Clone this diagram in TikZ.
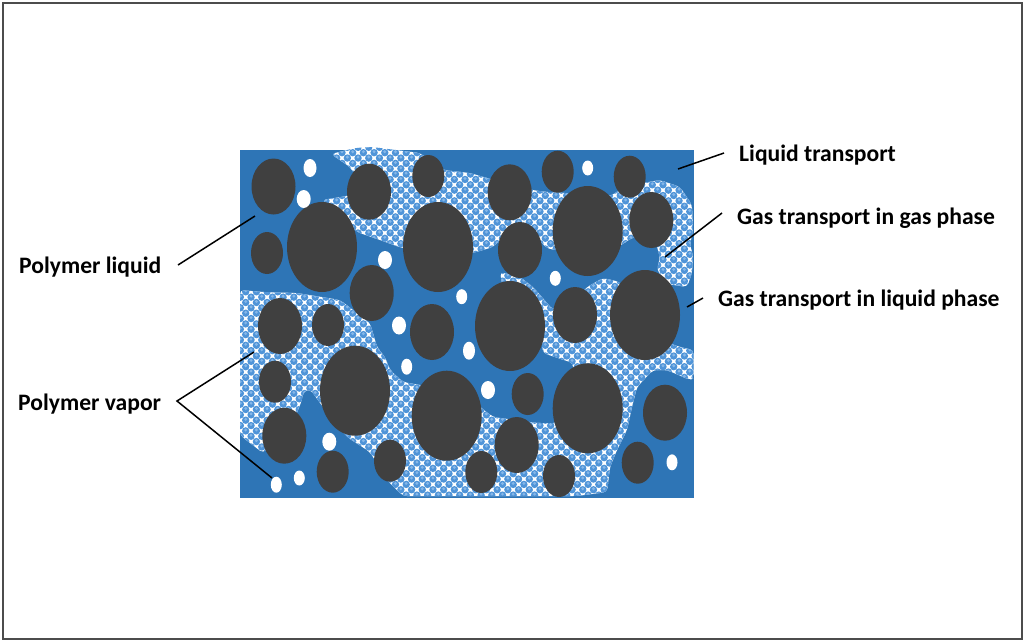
\documentclass[tikz,border=0pt]{standalone}
\usepackage{fontspec}
\setmainfont{Carlito}
\definecolor{liquidblue}{HTML}{2E75B6}
\definecolor{vaporblue}{HTML}{4F94D8}
\definecolor{vaporlight}{HTML}{86B7E8}
\definecolor{graindark}{HTML}{404040}
\tikzset{
  grain/.style={fill=graindark},
  bubble/.style={fill=white},
  leader/.style={draw=black,line width=1.5pt},
  tag/.style={anchor=west,inner sep=0pt,font=\fontsize{23.6}{26}\bfseries}
}
\begin{document}
\begin{tikzpicture}[x=1pt,y=-1pt]
    \useasboundingbox (0,0) rectangle (1024,641);
    \fill[white] (0,0) rectangle (1024,641);
    \draw[black!70,line width=1.5pt] (3,3) rectangle (1022,639);
    \fill[liquidblue] (240,150) rectangle (693.5,497.5);

    % vapor regions, clipped over a dotted tile
    \begin{scope}
        \clip[rounded corners=4pt]
            (331,154) -- (355,148) -- (372,147) -- (420,153) -- (443,170) -- (470,173) -- (487,178)
            -- (510,185) -- (532,190) -- (547,192) -- (567,193) -- (590,200) -- (613,195) -- (625,185)
            -- (643,183) -- (660,180) -- (680,187) -- (692,205) -- (693,230) -- (690,245) -- (693,255)
            -- (692,273) -- (687,287) -- (667,284) -- (657,270) -- (660,257) -- (655,240) -- (640,235)
            -- (628,240) -- (622,245) -- (600,250) -- (560,250) -- (553,250) -- (545,247) -- (540,240)
            -- (500,240) -- (493,247) -- (473,253) -- (440,250) -- (402,248) -- (380,240) -- (357,232)
            -- (345,220) -- (322,200) -- (347,196) -- (365,190) -- (350,167) -- cycle
            (240,290) -- (263,292) -- (297,293) -- (340,300) -- (370,323) -- (377,347) -- (385,357)
            -- (390,370) -- (403,382) -- (420,385) -- (470,395) -- (480,407) -- (493,417) -- (537,423)
            -- (557,423) -- (575,400) -- (573,363) -- (543,353) -- (540,330) -- (505,300) -- (500,272)
            -- (520,277) -- (533,287) -- (547,303) -- (553,310) -- (575,300) -- (587,287) -- (603,278)
            -- (620,282) -- (630,300) -- (660,340) -- (680,347) -- (693.5,350) -- (693.5,378) -- (690,380)
            -- (667,370) -- (653,370) -- (637,387) -- (632,407) -- (627,430) -- (617,450) -- (610,467)
            -- (607,492) -- (577,496) -- (403,496) -- (387,480) -- (370,452) -- (347,437) -- (323,407)
            -- (310,389) -- (303,392) -- (302,400) -- (290,430) -- (263,453) -- (250,443) -- (240,435) -- cycle;
        \fill[white] (235,140) rectangle (700,500);
        \foreach \i in {0,...,43} {
            \foreach \j in {0,...,34} {
                \fill[vaporblue] (235+\i*10.7,142+\j*10.7) circle (3.7);
                \fill[vaporblue] (240.35+\i*10.7,147.35+\j*10.7) circle (3.7);
                \fill[vaporlight] (235+\i*10.7,141+\j*10.7) circle (1.6);
                \fill[vaporlight] (240.35+\i*10.7,146.35+\j*10.7) circle (1.6);
            }
        }
    \end{scope}

    % large, medium and small grains
    \foreach \cx/\cy in {322/247,438/247,587.7/231,510/326,645/315,355/390.7,446.7/415.7,587.7/408.3}
        \fill[grain] (\cx,\cy) ellipse (35 and 45);
    \foreach \cx/\cy in {273.5/186.5,369/191.7,509.7/192.3,651.3/220,520/250,371.7/293,280/326,432/332,
                         575/315,284.3/435.7,665/412.7,516.7/445}
        \fill[grain] (\cx,\cy) ellipse (22 and 28);
    \foreach \cx/\cy in {267/253,428.3/176,557.7/171.7,629.7/176.7,328/325,275/381.7,527.7/394,
                         332.7/471.7,390/460.7,481.3/472,559/476,637.7/462.7}
        \fill[grain] (\cx,\cy) ellipse (16 and 21);

    % white bubbles
    \foreach \cx/\cy/\wide/\high in {310/168/6.5/9,303.7/199/7/9,385/260/7/9,399/325.5/7/9,488/390/7/9,
                                 329.3/441.7/7/9,469/350.7/6/9,461.7/296.7/5.5/7.5,587.7/168/5.5/7.5,
                                 555.3/278.3/5.5/7.5,406.7/366.7/5.5/8,276.3/484.7/5.5/8,
                                 299.3/478/5.5/7.5,672/462.3/5.5/8}
        \fill[bubble] (\cx,\cy) ellipse [x radius=\wide,y radius=\high];

    % labels
    \node[tag] (liquid) at (19,267) {Polymer liquid};
    \node[tag] (vapor) at (18,404) {Polymer vapor};
    \node[tag] (transport) at (739,155) {Liquid transport};
    \node[tag] (gasgas) at (737,218) {Gas transport in gas phase};
    \node[tag] (gasliquid) at (718,300) {Gas transport in liquid phase};

    \coordinate (liquidmouth) at (178,265);
    \coordinate (vapormouth) at (177,401);
    \coordinate (transportmouth) at (724,153);
    \coordinate (gasgasmouth) at (722,213);
    \coordinate (gasliquidmouth) at (703,298);
    \coordinate (liquidend) at (255,216);
    \coordinate (vaporupper) at (254,352);
    \coordinate (vaporlower) at (272,478);
    \coordinate (transportend) at (678,169);
    \coordinate (gasgasend) at (665,257);
    \coordinate (gasliquidend) at (687,307);

    \draw[leader] (liquidmouth) -- (liquidend);
    \draw[leader] (vaporupper) -- (vapormouth) -- (vaporlower);
    \draw[leader] (transportmouth) -- (transportend);
    \draw[leader] (gasgasmouth) -- (gasgasend);
    \draw[leader] (gasliquidmouth) -- (gasliquidend);
\end{tikzpicture}
\end{document}
